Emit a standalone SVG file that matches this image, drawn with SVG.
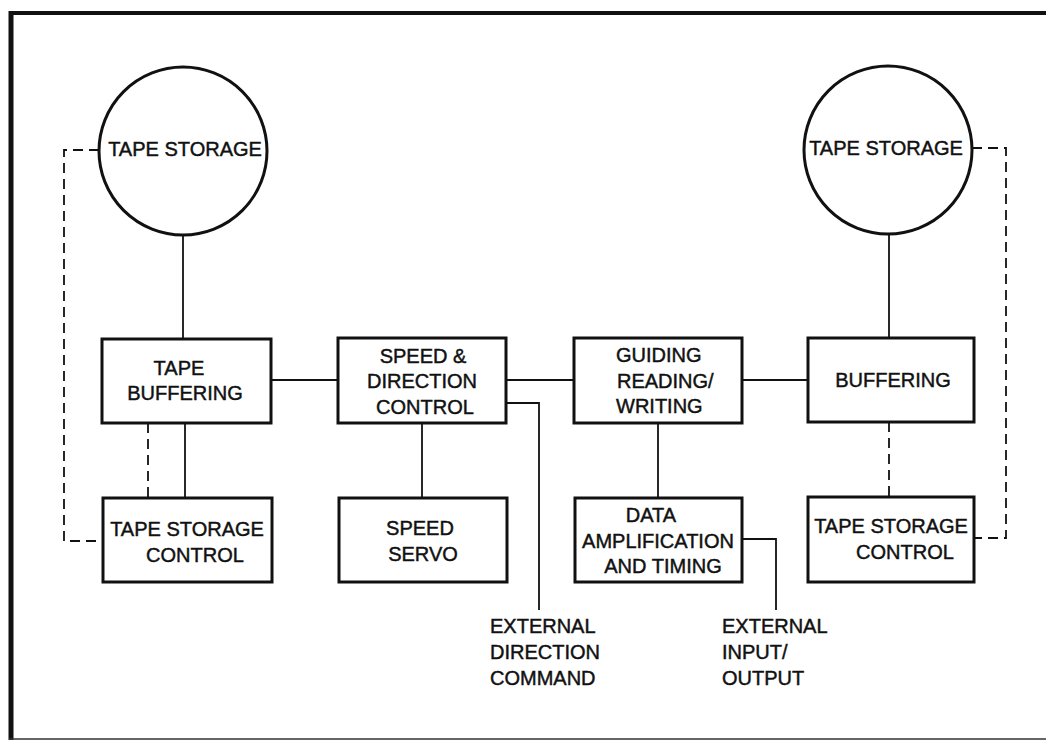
<svg xmlns="http://www.w3.org/2000/svg" width="1046" height="742" viewBox="0 0 1046 742">
<style>
.box{fill:none;stroke:#111;stroke-width:3}
.ln{fill:none;stroke:#111;stroke-width:1.8}
.dash{fill:none;stroke:#111;stroke-width:1.8;stroke-dasharray:10 6}
text{font-family:"Liberation Sans",Arial,sans-serif;font-size:20px;fill:#111;stroke:#111;stroke-width:0.45;text-anchor:middle}
.l{text-anchor:start}
</style>
<rect width="1046" height="742" fill="#fff"/>
<g id="frame">
<line x1="9" y1="13" x2="1046" y2="13" stroke="#111" stroke-width="4"/>
<line x1="11" y1="11" x2="11" y2="740" stroke="#111" stroke-width="5"/>
<line x1="9" y1="739" x2="1046" y2="739" stroke="#333" stroke-width="1.5"/>
</g>
<g id="connectors">
<path class="ln" d="M183 235V339"/>
<path class="ln" d="M889 235V338"/>
<path class="ln" d="M271 380H338"/>
<path class="ln" d="M506 380H574"/>
<path class="ln" d="M742 380H808"/>
<path class="ln" d="M185 423V498"/>
<path class="ln" d="M422 423V498"/>
<path class="ln" d="M658 423V498"/>
<path class="ln" d="M506 403H539V610"/>
<path class="ln" d="M742 539H776V610"/>
<path class="dash" d="M99 150H64V541H102"/>
<path class="dash" d="M972 148H1006V538H974"/>
<path class="dash" d="M148 423V498"/>
<path class="dash" d="M889 422V497"/>
</g>
<g id="tape-storage-left">
<circle class="box" cx="183" cy="151" r="84"/>
<text x="185" y="156">TAPE STORAGE</text>
</g>
<g id="tape-storage-right">
<circle class="box" cx="888" cy="150" r="84"/>
<text x="886" y="155">TAPE STORAGE</text>
</g>
<g id="tape-buffering">
<rect class="box" x="102" y="339" width="169" height="84"/>
<text x="179" y="375">TAPE</text>
<text x="185" y="400">BUFFERING</text>
</g>
<g id="tape-storage-control-left">
<rect class="box" x="103" y="498" width="169" height="84"/>
<text x="187" y="536">TAPE STORAGE</text>
<text x="195" y="562">CONTROL</text>
</g>
<g id="speed-direction-control">
<rect class="box" x="338" y="338" width="168" height="85"/>
<text x="423" y="363">SPEED &amp;</text>
<text x="422" y="388">DIRECTION</text>
<text x="425" y="414">CONTROL</text>
</g>
<g id="speed-servo">
<rect class="box" x="339" y="498" width="168" height="84"/>
<text x="420" y="535">SPEED</text>
<text x="423" y="561">SERVO</text>
</g>
<g id="guiding">
<rect class="box" x="574" y="338" width="168" height="85"/>
<text class="l" x="616" y="362">GUIDING</text>
<text class="l" x="617" y="388">READING/</text>
<text class="l" x="616" y="413">WRITING</text>
</g>
<g id="data-amplification">
<rect class="box" x="575" y="498" width="167" height="84"/>
<text x="651" y="522">DATA</text>
<text x="658" y="548">AMPLIFICATION</text>
<text x="663" y="573">AND TIMING</text>
</g>
<g id="buffering-right">
<rect class="box" x="808" y="338" width="166" height="84"/>
<text x="893" y="387">BUFFERING</text>
</g>
<g id="tape-storage-control-right">
<rect class="box" x="808" y="497" width="166" height="85"/>
<text x="891" y="533">TAPE STORAGE</text>
<text x="905" y="559">CONTROL</text>
</g>
<g id="external-direction-command">
<text class="l" x="490" y="633">EXTERNAL</text>
<text class="l" x="490" y="659">DIRECTION</text>
<text class="l" x="490" y="685">COMMAND</text>
</g>
<g id="external-input-output">
<text class="l" x="722" y="633">EXTERNAL</text>
<text class="l" x="722" y="659">INPUT/</text>
<text class="l" x="722" y="685">OUTPUT</text>
</g>
</svg>
